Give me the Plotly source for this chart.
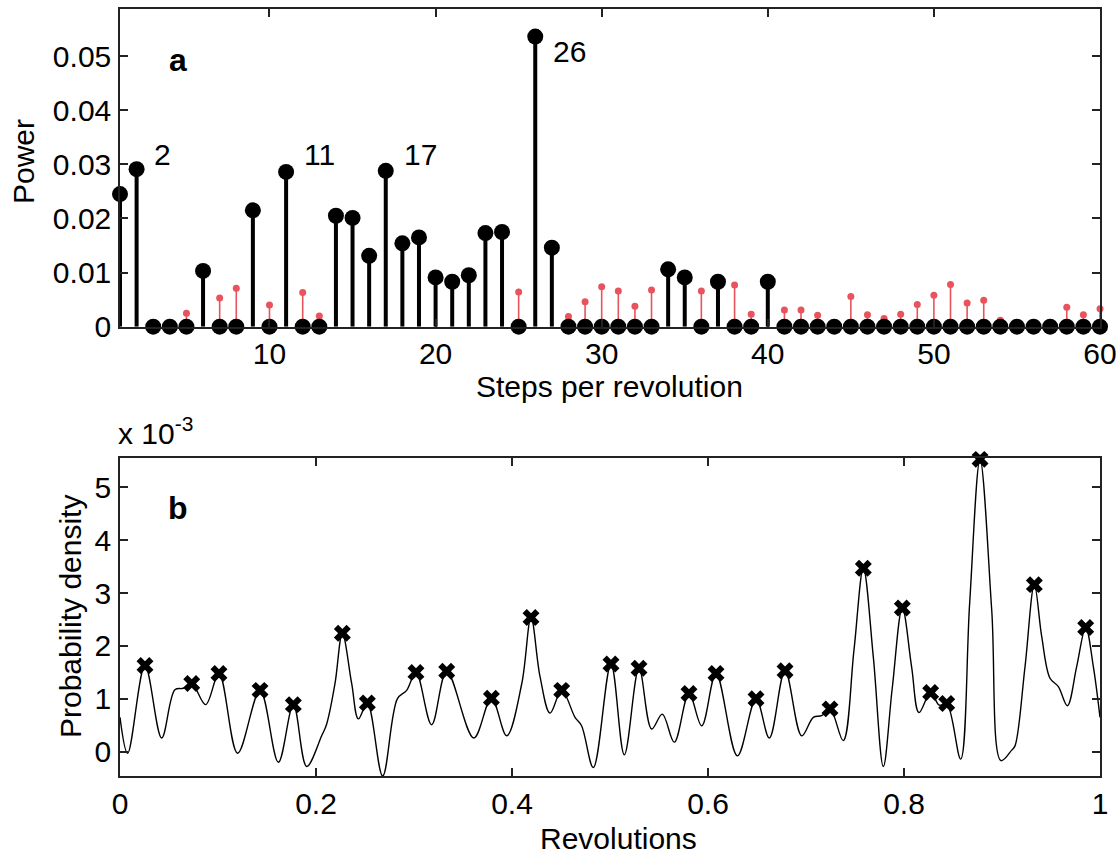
import plotly.graph_objects as go

# ---------------- Panel a data ----------------
steps = list(range(1, 61))
power_black = [0.0245, 0.0291, 0, 0, 0, 0.0103, 0, 0, 0.0215, 0,
               0.0286, 0, 0, 0.0205, 0.0201, 0.0131, 0.0288, 0.0154, 0.0165, 0.0091,
               0.0083, 0.0095, 0.0173, 0.0175, 0, 0.0536, 0.0146, 0, 0, 0,
               0, 0, 0, 0.0106, 0.0091, 0, 0.0083, 0, 0, 0.0083,
               0, 0, 0, 0, 0, 0, 0, 0, 0, 0,
               0, 0, 0, 0, 0, 0, 0, 0, 0, 0]
power_red = [0, 0, 0, 0, 0.0025, 0, 0.0053, 0.0071, 0, 0.0040,
             0, 0.0063, 0.0020, 0, 0, 0, 0, 0, 0, 0,
             0, 0, 0, 0, 0.0064, 0, 0, 0.0019, 0.0046, 0.0074,
             0.0066, 0.0038, 0.0068, 0, 0, 0.0066, 0, 0.0077, 0.0023, 0,
             0.0031, 0.0031, 0.0021, 0, 0.0056, 0.0022, 0.0015, 0.0023, 0.0041, 0.0058,
             0.0078, 0.0044, 0.0049, 0.0012, 0, 0, 0, 0.0036, 0.0022, 0.0033]
peak_labels = [2, 11, 17, 26]
label_y = [0.0318, 0.0318, 0.0318, 0.0509]

# ---------------- Panel b data (units of 1e-3) ----------------
rev_x = [0.000, 0.0078, 0.0255, 0.0425, 0.056, 0.0646, 0.0732, 0.0874, 0.101, 0.120,
         0.1429, 0.1616, 0.1769, 0.1905, 0.2058, 0.211, 0.2194, 0.2269, 0.2364, 0.2432,
         0.2524, 0.268, 0.283, 0.2925, 0.302, 0.318, 0.3334, 0.361, 0.379, 0.3946,
         0.410, 0.4194, 0.4286, 0.4388, 0.4507, 0.4643, 0.471, 0.483, 0.501, 0.5146,
         0.5296, 0.5425, 0.5534, 0.5656, 0.5806, 0.5936, 0.6082, 0.630, 0.649, 0.6626,
         0.6786, 0.6956, 0.7075, 0.716, 0.7245, 0.738, 0.749, 0.7585, 0.7687, 0.7789,
         0.788, 0.7983, 0.8078, 0.8153, 0.8272, 0.836, 0.8436, 0.8578, 0.867, 0.8776,
         0.8895, 0.899, 0.9099, 0.9133, 0.9235, 0.933, 0.9405, 0.949, 0.9575, 0.9667,
         0.9762, 0.9854, 0.9932, 1.000]
density = [0.65, -0.03, 1.63, 0.26, 1.17, 1.20, 1.29, 0.89, 1.48, -0.03,
           1.16, -0.20, 0.89, -0.28, 0.30, 0.53, 1.29, 2.24, 1.29, 0.62,
           0.92, -0.46, 1.00, 1.16, 1.50, 0.51, 1.52, 0.26, 1.01, 0.30,
           1.29, 2.54, 1.42, 0.73, 1.16, 0.65, 0.49, -0.30, 1.66, -0.06,
           1.58, 0.43, 0.71, 0.18, 1.10, 0.49, 1.48, -0.08, 1.00, 0.26,
           1.53, 0.30, 0.65, 0.68, 0.81, 0.21, 1.93, 3.47, 1.79, -0.28,
           1.20, 2.72, 1.60, 0.74, 1.12, 0.88, 0.91, -0.14, 2.81, 5.53,
           2.68, -0.17, 0.03, 0.11, 1.61, 3.16, 2.18, 1.39, 1.23, 0.87,
           1.61, 2.35, 1.61, 0.65]
peak_x = [0.0255, 0.0732, 0.101, 0.1429, 0.1769, 0.2269, 0.2524, 0.302, 0.3334, 0.379,
          0.4194, 0.4507, 0.501, 0.5296, 0.5806, 0.6082, 0.649, 0.6786, 0.7245, 0.7585,
          0.7983, 0.8272, 0.8436, 0.8776, 0.933, 0.9854]
peak_y = [1.63, 1.29, 1.48, 1.16, 0.89, 2.24, 0.92, 1.50, 1.52, 1.01,
          2.54, 1.16, 1.66, 1.58, 1.10, 1.48, 1.00, 1.53, 0.81, 3.47,
          2.72, 1.12, 0.91, 5.53, 3.16, 2.35]

FONT = "Liberation Sans, Arial, Helvetica, sans-serif"
FS = 30
RED = "#e8535d"
AX = "#222222"
W, H = 1118, 854


def stems(xs, ys):
    sx, sy = [], []
    for xv, yv in zip(xs, ys):
        if yv > 0:
            sx += [xv, xv, None]
            sy += [0, yv, None]
    return sx, sy


def px(xp):
    return xp / W


def py(yp):
    return 1 - yp / H


fig = go.Figure()

rx, ry = stems(steps, power_red)
fig.add_trace(go.Scatter(x=rx, y=ry, mode="lines", line=dict(color=RED, width=1.6),
                         xaxis="x", yaxis="y", hoverinfo="skip", cliponaxis=False))
red_x = [s for s, v in zip(steps, power_red) if v > 0]
red_y = [v for v in power_red if v > 0]
fig.add_trace(go.Scatter(x=red_x, y=red_y, mode="markers", marker=dict(color=RED, size=7),
                         xaxis="x", yaxis="y", cliponaxis=False))
bx, by = stems(steps, power_black)
fig.add_trace(go.Scatter(x=bx, y=by, mode="lines", line=dict(color="black", width=4),
                         xaxis="x", yaxis="y", hoverinfo="skip", cliponaxis=False))
fig.add_trace(go.Scatter(x=steps, y=power_black, mode="markers",
                         marker=dict(color="black", size=16),
                         xaxis="x", yaxis="y", cliponaxis=False))

fig.add_trace(go.Scatter(x=rev_x, y=density, mode="lines",
                         line=dict(color="black", width=1.4, shape="spline", smoothing=1.0),
                         xaxis="x2", yaxis="y2"))
fig.add_trace(go.Scatter(x=peak_x, y=peak_y, mode="markers",
                         marker=dict(symbol="x", color="black", size=15,
                                     line=dict(width=0)),
                         xaxis="x2", yaxis="y2", cliponaxis=False))

txt = dict(family=FONT, size=FS, color="black")
annotations = []
for n, yy in zip(peak_labels, label_y):
    annotations.append(dict(x=n + 0.95, y=yy, xref="x", yref="y", text=str(n),
                            showarrow=False, xanchor="left", yanchor="middle", font=txt))
annotations += [
    dict(x=px(178), y=py(60), xref="paper", yref="paper", text="<b>a</b>",
         showarrow=False, xanchor="center", yanchor="middle",
         font=dict(family=FONT, size=32, color="black")),
    dict(x=px(178), y=py(508), xref="paper", yref="paper", text="<b>b</b>",
         showarrow=False, xanchor="center", yanchor="middle",
         font=dict(family=FONT, size=32, color="black")),
    dict(x=px(116), y=py(452), xref="paper", yref="paper", text="x 10<sup>-3</sup>",
         showarrow=False, xanchor="left", yanchor="bottom", font=txt),
    dict(x=px(23), y=py(162), xref="paper", yref="paper", text="Power", textangle=-90,
         showarrow=False, xanchor="center", yanchor="middle", font=txt),
    dict(x=px(609), y=py(387), xref="paper", yref="paper", text="Steps per revolution",
         showarrow=False, xanchor="center", yanchor="middle", font=txt),
    dict(x=px(70), y=py(617), xref="paper", yref="paper", text="Probability density",
         textangle=-90, showarrow=False, xanchor="center", yanchor="middle", font=txt),
    dict(x=px(618), y=py(838), xref="paper", yref="paper", text="Revolutions",
         showarrow=False, xanchor="center", yanchor="middle", font=txt),
]

axis_common = dict(showline=True, linecolor=AX, linewidth=1.5, mirror="ticks",
                   ticks="inside", ticklen=8, tickwidth=1.5, tickcolor=AX,
                   showgrid=False, zeroline=False, automargin=False,
                   ticklabeloverflow="allow",
                   tickfont=dict(family=FONT, size=FS, color="black"))

xd = [px(120), px(1100)]
fig.update_layout(
    width=W, height=H,
    margin=dict(l=0, r=0, t=0, b=0),
    paper_bgcolor="white", plot_bgcolor="white",
    showlegend=False,
    annotations=annotations,
    xaxis=dict(domain=xd, range=[1, 60], tickvals=[10, 20, 30, 40, 50, 60],
               anchor="y", ticklabelstandoff=0, **axis_common),
    yaxis=dict(domain=[py(326.7), py(9)], range=[0, 0.0587],
               tickvals=[0, 0.01, 0.02, 0.03, 0.04, 0.05],
               ticktext=["0", "0.01", "0.02", "0.03", "0.04", "0.05"],
               anchor="x", ticklabelstandoff=1, **axis_common),
    xaxis2=dict(domain=xd, range=[0, 1], tickvals=[0, 0.2, 0.4, 0.6, 0.8, 1],
                ticktext=["0", "0.2", "0.4", "0.6", "0.8", "1"], anchor="y2",
                ticklabelstandoff=0, **axis_common),
    yaxis2=dict(domain=[py(776), py(458.3)], range=[-0.46, 5.55],
                tickvals=[0, 1, 2, 3, 4, 5], anchor="x2", ticklabelstandoff=1,
                **axis_common),
)

fig.write_html(
    "out.html",
    config={"displayModeBar": False},
    post_script="document.body.style.margin='0';document.body.style.overflow='hidden';",
)
